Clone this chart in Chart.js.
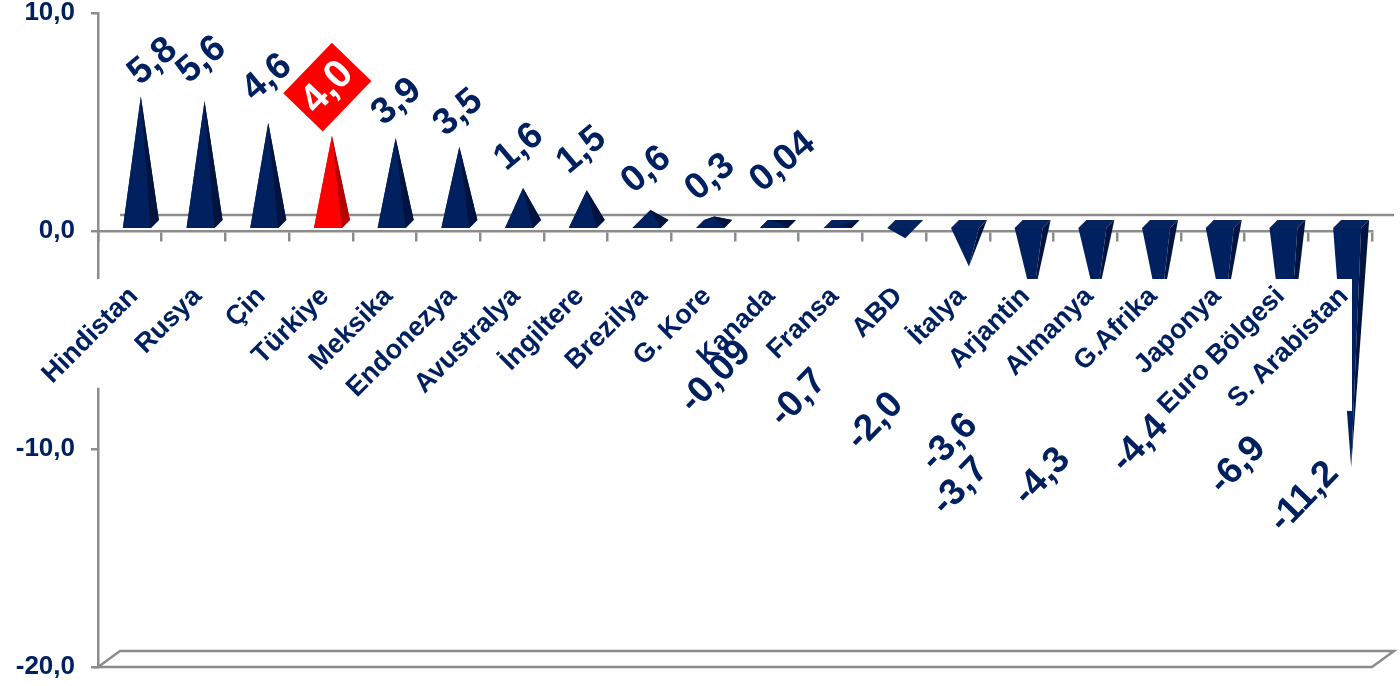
<!DOCTYPE html>
<html>
<head>
<meta charset="utf-8">
<script src="https://cdn.jsdelivr.net/npm/chart.js@4.4.1/dist/chart.umd.min.js"></script>
<style>
  html, body { margin: 0; padding: 0; background: #fff; }
  canvas { display: block; }
</style>
</head>
<body>
<canvas id="growthChart" width="1400" height="686"></canvas>
<script>
// Data
const countries = ['Hindistan', 'Rusya', 'Çin', 'Türkiye', 'Meksika', 'Endonezya', 'Avustralya', 'İngiltere',
    'Brezilya', 'G. Kore', 'Kanada', 'Fransa', 'ABD', 'İtalya', 'Arjantin', 'Almanya', 'G.Afrika', 'Japonya',
    'Euro Bölgesi', 'S. Arabistan'];
const growth = [5.8, 5.6, 4.6, 4.0, 3.9, 3.5, 1.6, 1.5, 0.6, 0.3, 0.04, -0.09, -0.7, -2.0, -3.6, -3.7, -4.3, -4.4, -6.9, -11.2];
const yTicks = [10, 0, -10, -20];
const highlighted = 'Türkiye';

// Value label offsets from the pyramid tip (layout only, as placed in the original)
const labelDx = [12, -3, -1, -5, 1, -1, -4, -5, -4, -4, 5, -126, -107, -94, -83, -136, -118, -84, -50, -47];
const labelDy = [-35, -41, -45, -49, -36, -34, -41, -40, -40, -39, -60, 152, 160, 155, 141, 183, 160, 125, 92, 30];

const NAVY = '#002060';
const NAVY_SIDE = '#00143f';
const NAVY_TOP = '#06235f';
const RED = '#ff0000';
const RED_SIDE = '#b80000';
const GRID = '#8c8c8c';
const FONT = '"Liberation Sans", Arial, sans-serif';
const DEPTH_X = 22, DEPTH_Y = -16;

function fmt(v) {
    return v.toFixed(Math.abs(v) < 0.1 && v !== 0 ? 2 : 1).replace('.', ',');
}

function drawPyramid(ctx, cx, by, tipY, front, side, top) {
    const FL = [cx - 18, by + 4], FR = [cx + 10, by + 4], BR = [cx + 18, by - 4], BL = [cx - 10, by - 4];
    const T = [cx, tipY];
    const poly = (pts, col) => {
        ctx.fillStyle = col;
        ctx.beginPath();
        ctx.moveTo(pts[0][0], pts[0][1]);
        for (let k = 1; k < pts.length; k++) ctx.lineTo(pts[k][0], pts[k][1]);
        ctx.closePath();
        ctx.fill();
    };
    if (tipY <= by) {
        poly([FL, FR, BR, BL], front);
        poly([BL, BR, T], side);
        poly([FL, BL, T], front);
        poly([FL, FR, T], front);
        poly([FR, BR, T], side);
    } else {
        poly([FL, FR, BR, BL], top);
        poly([FL, FR, T], front);
        poly([FR, BR, T], side);
    }
}

const pyramid3d = {
    id: 'pyramid3d',
    beforeDatasetsDraw(chart) {
        const { ctx, chartArea: a, scales: { y } } = chart;
        const z = y.getPixelForValue(0);
        const b = y.getPixelForValue(yTicks[yTicks.length - 1]);
        ctx.save();
        ctx.strokeStyle = GRID;
        ctx.lineWidth = 2.5;
        ctx.beginPath();
        // back wall line at zero
        ctx.moveTo(a.left + DEPTH_X, z + DEPTH_Y);
        ctx.lineTo(a.right + DEPTH_X, z + DEPTH_Y);
        // floor
        ctx.moveTo(a.left, b);
        ctx.lineTo(a.left + DEPTH_X, b + DEPTH_Y);
        ctx.lineTo(a.right + DEPTH_X, b + DEPTH_Y);
        ctx.lineTo(a.right, b);
        ctx.closePath();
        ctx.stroke();
        ctx.restore();
    },
    afterDatasetsDraw(chart) {
        const { ctx, chartArea: a, scales: { y } } = chart;
        const meta = chart.getDatasetMeta(0);
        const z = y.getPixelForValue(0);
        const by = z - 7;

        ctx.save();
        // pyramids
        meta.data.forEach((bar, i) => {
            const cx = bar.x + 11;
            const tipY = y.getPixelForValue(growth[i]) - 8;
            const hot = countries[i] === highlighted;
            drawPyramid(ctx, cx, by, tipY, hot ? RED : NAVY, hot ? RED_SIDE : NAVY_SIDE, NAVY_TOP);
        });

        // white category label band (covers the bars like in the original)
        ctx.fillStyle = '#fff';
        ctx.beginPath();
        ctx.moveTo(0, z + 48);
        ctx.lineTo(a.right - 20, z + 48);
        ctx.lineTo(a.right - 20, z + 180);
        ctx.lineTo(0, z + 155);
        ctx.closePath();
        ctx.fill();

        // category labels
        ctx.fillStyle = NAVY;
        ctx.font = 'bold 27px ' + FONT;
        ctx.textAlign = 'right';
        ctx.textBaseline = 'middle';
        meta.data.forEach((bar, i) => {
            ctx.save();
            ctx.translate(bar.x + 4, z + 61);
            ctx.rotate(-Math.PI / 4);
            ctx.fillText(countries[i], 0, 0);
            ctx.restore();
        });

        // value labels
        ctx.textAlign = 'center';
        meta.data.forEach((bar, i) => {
            const v = growth[i];
            const cx = bar.x + 11;
            const tipY = y.getPixelForValue(v) - 8;
            const lx = cx + labelDx[i], ly = tipY + labelDy[i];
            const ang = (v >= 0 ? -40 : -46) * Math.PI / 180;
            ctx.save();
            ctx.translate(lx, ly);
            if (countries[i] === highlighted) {
                ctx.rotate(-46 * Math.PI / 180);
                ctx.fillStyle = RED;
                ctx.fillRect(-35, -27, 70, 55);
                ctx.fillStyle = '#fff';
                ctx.font = 'bold 40px ' + FONT;
                ctx.fillText(fmt(v), 0, 1);
            } else {
                ctx.rotate(ang);
                ctx.fillStyle = NAVY;
                ctx.font = 'bold 37px ' + FONT;
                ctx.fillText(fmt(v), 0, 0);
            }
            ctx.restore();
        });
        ctx.restore();
    }
};

new Chart(document.getElementById('growthChart'), {
    type: 'bar',
    data: {
        labels: countries,
        datasets: [{
            data: growth,
            backgroundColor: 'rgba(0,0,0,0)',
            borderWidth: 0
        }]
    },
    options: {
        responsive: false,
        animation: false,
        devicePixelRatio: 1,
        layout: { padding: { top: 13, right: 28, bottom: 19, left: 0 } },
        plugins: { legend: { display: false }, tooltip: { enabled: false } },
        scales: {
            x: {
                position: { y: 0 },
                offset: true,
                ticks: { display: false },
                grid: { display: true, offset: true, drawOnChartArea: false, drawTicks: true, tickLength: 9, color: GRID, lineWidth: 2.5 },
                border: { display: true, color: GRID, width: 2.5 }
            },
            y: {
                min: yTicks[yTicks.length - 1],
                max: yTicks[0],
                afterFit: s => {
                    s.width = 98;
                    s.paddingTop = 0;
                    s.paddingBottom = 0;
                },
                afterBuildTicks: s => { s.ticks = yTicks.map(v => ({ value: v })); },
                ticks: {
                    callback: v => fmt(v),
                    color: NAVY,
                    padding: 16,
                    font: { family: FONT, size: 26, weight: 'bold', lineHeight: 1 }
                },
                grid: { drawOnChartArea: false, drawTicks: true, tickLength: 7, color: GRID, lineWidth: 2.5 },
                border: { color: GRID, width: 2.5 }
            }
        }
    },
    plugins: [pyramid3d]
});
</script>
</body>
</html>
